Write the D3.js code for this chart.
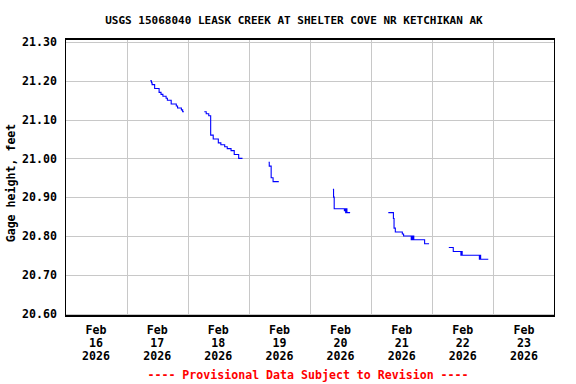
<!DOCTYPE html>
<html><head><meta charset="utf-8">
<script src="https://cdn.jsdelivr.net/npm/d3@7"></script>
<style>
body{margin:0;background:#fff}
text{font-family:"DejaVu Sans Mono","Liberation Mono",monospace;font-weight:bold}
</style>
</head><body>
<svg id="c" width="576" height="384"></svg>
<script>
const title = "USGS 15068040 LEASK CREEK AT SHELTER COVE NR KETCHIKAN AK";
const yLabel = "Gage height, feet";
const footer = "---- Provisional Data Subject to Revision ----";
const yTicks = [20.60, 20.70, 20.80, 20.90, 21.00, 21.10, 21.20, 21.30];
const xDays = ["2026-02-16","2026-02-17","2026-02-18","2026-02-19","2026-02-20","2026-02-21","2026-02-22","2026-02-23"];
const xTickMonth = ["Feb","Feb","Feb","Feb","Feb","Feb","Feb","Feb"];
const xTickDay = ["16","17","18","19","20","21","22","23"];
const xTickYear = ["2026","2026","2026","2026","2026","2026","2026","2026"];

// time series (clock times as displayed); null = gap
const times = [
 "2026-02-17T09:15","2026-02-17T09:45","2026-02-17T10:00","2026-02-17T11:00","2026-02-17T12:45","2026-02-17T13:30",
 "2026-02-17T14:15","2026-02-17T15:30","2026-02-17T16:00","2026-02-17T17:30","2026-02-17T19:30","2026-02-17T20:00",
 "2026-02-17T21:30","2026-02-17T22:00","2026-02-17T22:30","2026-02-18T00:00",
 "2026-02-18T06:30","2026-02-18T07:15","2026-02-18T08:15","2026-02-18T09:00","2026-02-18T10:00","2026-02-18T12:00",
 "2026-02-18T13:00","2026-02-18T14:30","2026-02-18T15:30","2026-02-18T17:00","2026-02-18T18:15","2026-02-18T20:00",
 "2026-02-18T21:30","2026-02-19T00:00",
 "2026-02-19T07:45","2026-02-19T08:00","2026-02-19T08:45","2026-02-19T09:30","2026-02-19T11:45","2026-02-20T00:00",
 "2026-02-20T09:00","2026-02-20T09:15","2026-02-20T09:30","2026-02-20T13:30","2026-02-20T13:45","2026-02-20T14:00",
 "2026-02-20T14:15","2026-02-20T14:30","2026-02-20T15:45","2026-02-21T00:00",
 "2026-02-21T06:45","2026-02-21T08:45","2026-02-21T09:00","2026-02-21T09:30","2026-02-21T12:15","2026-02-21T12:45",
 "2026-02-21T15:45","2026-02-21T16:00","2026-02-21T16:15","2026-02-21T16:30","2026-02-21T16:45","2026-02-21T21:00",
 "2026-02-21T22:45","2026-02-22T00:00",
 "2026-02-22T06:30","2026-02-22T08:15","2026-02-22T11:15","2026-02-22T11:30","2026-02-22T11:45","2026-02-22T18:30",
 "2026-02-22T18:45","2026-02-22T19:00","2026-02-22T22:00"
];
const heights = [
 21.20,21.195,21.19,21.18,21.17,21.165,
 21.16,21.155,21.15,21.14,21.135,21.13,
 21.125,21.12,21.12,null,
 21.12,21.115,21.11,21.06,21.05,21.04,
 21.035,21.03,21.025,21.02,21.01,21.00,
 21.00,null,
 20.99,20.98,20.95,20.94,20.94,null,
 20.92,20.90,20.87,20.865,20.87,20.86,
 20.87,20.86,20.86,null,
 20.86,20.845,20.82,20.81,20.805,20.80,
 20.79,20.80,20.79,20.80,20.79,20.78,
 20.78,null,
 20.77,20.76,20.75,20.76,20.75,20.74,
 20.75,20.74,20.74
];

const parse = d3.utcParse("%Y-%m-%dT%H:%M");
const parseDay = d3.utcParse("%Y-%m-%d");
const data = times.map((t,i)=>({t:parse(t), v:heights[i]}));

const svg = d3.select("#c");
const pL = 65.5, pR = 554.5, pT = 39, pB = 316;
const x = d3.scaleUtc().domain([parseDay("2026-02-16"), parseDay("2026-02-24")]).range([pL, pR]);
const y = d3.scaleLinear().domain([20.60, 21.30]).range([313.5, 42]);

svg.append("rect").attr("width",576).attr("height",384).attr("fill","#fff");

// grid
const g = svg.append("g").attr("shape-rendering","crispEdges");
g.selectAll(".hg").data(yTicks).join("line")
  .attr("x1",pL).attr("x2",pR)
  .attr("y1",d=>Math.round(y(d))+0.5).attr("y2",d=>Math.round(y(d))+0.5)
  .attr("stroke","#c8c8c8").attr("stroke-width",1);
const dayLines = xDays.slice(1).map(parseDay);
g.selectAll(".vg").data(dayLines).join("line")
  .attr("y1",pT).attr("y2",pB)
  .attr("x1",d=>Math.round(x(d))+0.5).attr("x2",d=>Math.round(x(d))+0.5)
  .attr("stroke","#c8c8c8").attr("stroke-width",1);

// data line
const line = d3.line().defined(d=>d.v!==null).x(d=>x(d.t)).y(d=>y(d.v)).curve(d3.curveStepAfter);
svg.append("path").datum(data).attr("d",line)
  .attr("fill","none").attr("stroke","#0000ff").attr("stroke-width",1.1);

// frame
svg.append("rect").attr("x",pL).attr("y",pT).attr("width",pR-pL).attr("height",pB-pT)
  .attr("fill","none").attr("stroke","#000").attr("stroke-width",1.3).attr("shape-rendering","crispEdges");

// y tick labels
svg.selectAll(".yl").data(yTicks).join("text")
  .attr("x",57).attr("y",d=>y(d)).attr("dy","0.36em")
  .attr("text-anchor","end").attr("font-size","11.6px").attr("fill","#000")
  .text(d=>d3.format(".2f")(d));

// x tick labels (centered at noon of each day)
const noon = xDays.map(d=>d3.utcHour.offset(parseDay(d),12));
const xl = svg.selectAll(".xl").data(noon).join("text")
  .attr("text-anchor","middle").attr("font-size","11.6px").attr("fill","#000");
xl.append("tspan").attr("x",d=>x(d)).attr("y",334).text((d,i)=>xTickMonth[i]);
xl.append("tspan").attr("x",d=>x(d)).attr("y",347).text((d,i)=>xTickDay[i]);
xl.append("tspan").attr("x",d=>x(d)).attr("y",360).text((d,i)=>xTickYear[i]);

// title
svg.append("text").attr("x",294).attr("y",24).attr("text-anchor","middle")
  .attr("font-size","11px").attr("fill","#000").text(title);

// y label
svg.append("text").attr("transform","translate(15,183) rotate(-90)")
  .attr("text-anchor","middle").attr("font-size","11.6px").attr("fill","#000").text(yLabel);

// footer
svg.append("text").attr("x",308).attr("y",379).attr("text-anchor","middle")
  .attr("font-size","11.6px").attr("fill","#ff0000").text(footer);
</script>
</body></html>
